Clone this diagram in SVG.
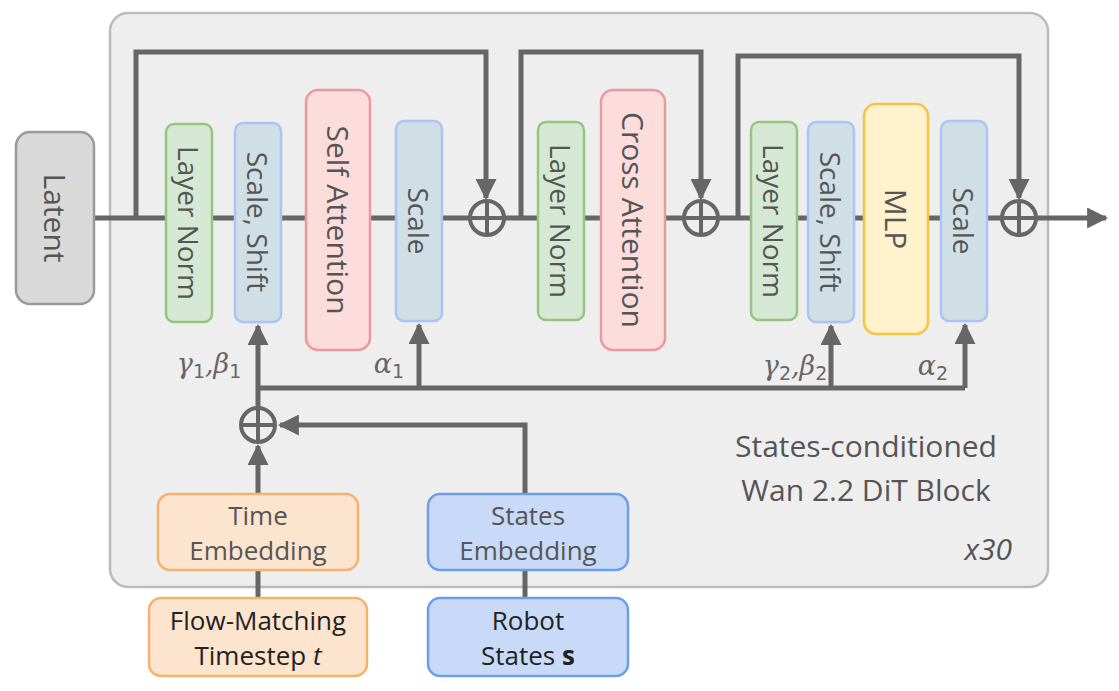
<svg xmlns="http://www.w3.org/2000/svg" width="1119" height="691" viewBox="0 0 1119 691">
<defs>
<marker id="ah" viewBox="0 0 10 10" refX="9" refY="5" markerWidth="4.2" markerHeight="4.2" orient="auto" markerUnits="strokeWidth"><path d="M0,0 L10,5 L0,10 z" fill="#666"/></marker>
<style>
text{font-family:"Open Sans","Noto Sans",sans-serif;fill:#555;font-size:26px;text-anchor:middle;dominant-baseline:central}
.R{font-size:28px}
.L{font-size:30px}
.c{fill:none;stroke:#666;stroke-width:5}
.g{fill:#d5e8d4;stroke:#97c57f;stroke-width:2.5}
.b{fill:#d0dfe6;stroke:#a9c4f5;stroke-width:2.5}
.r{fill:#fddcdc;stroke:#ea9a9a;stroke-width:2.5}
.y{fill:#fff2cc;stroke:#f4c542;stroke-width:2.5}
.o{fill:#fce4cf;stroke:#f6b26b;stroke-width:2.5}
.s{fill:#c9daf8;stroke:#6d9eeb;stroke-width:2.5}
.m{font-family:"DejaVu Serif",serif;font-style:italic;font-size:27px;fill:#666}
.sub{font-family:"DejaVu Sans",sans-serif;font-style:normal;font-size:19px}
.k{fill:#222}
</style>
</defs>
<rect x="110" y="13" width="938" height="574" rx="18" fill="#eeeeee" stroke="#bbbbbb" stroke-width="2.5"/>
<g id="connectors">
<path class="c" d="M94,218 H472 M505,218 H686 M719,218 H1001"/>
<path class="c" d="M1037,218 H1106" marker-end="url(#ah)"/>
<path class="c" d="M136,218 V52 H486 V198" marker-end="url(#ah)"/>
<path class="c" d="M521,218 V52 H701 V198" marker-end="url(#ah)"/>
<path class="c" d="M738,218 V56 H1019 V198" marker-end="url(#ah)"/>
<path class="c" d="M258,407 V326" marker-end="url(#ah)"/>
<path class="c" d="M258,388 H965"/>
<path class="c" d="M419,388 V325" marker-end="url(#ah)"/>
<path class="c" d="M831,388 V326" marker-end="url(#ah)"/>
<path class="c" d="M965,388 V325" marker-end="url(#ah)"/>
<path class="c" d="M525,494 V425 H280" marker-end="url(#ah)"/>
<path class="c" d="M258,494 V446" marker-end="url(#ah)"/>
<path class="c" d="M258,570 V598 M525,570 V598"/>
<g fill="none" stroke="#666" stroke-width="4">
<circle cx="487" cy="218" r="17"/><path d="M470,218 H504 M487,201 V235"/>
<circle cx="701" cy="218" r="17"/><path d="M684,218 H718 M701,201 V235"/>
<circle cx="1019" cy="218" r="17"/><path d="M1002,218 H1036 M1019,201 V235"/>
<circle cx="258" cy="425" r="17"/><path d="M241,425 H275 M258,408 V442"/>
</g>
</g>
<g id="latent"><rect x="16" y="132" width="78" height="172" rx="14" fill="#d9d9d9" stroke="#9a9a9a" stroke-width="2.5"/><text class="L" transform="translate(55,218) rotate(90)">Latent</text></g>
<g id="ln1"><rect class="g" x="166" y="124" width="46" height="198" rx="8"/><text class="R" transform="translate(189,223) rotate(90)">Layer Norm</text></g>
<g id="ss1"><rect class="b" x="235" y="123" width="46" height="199" rx="8"/><text class="R" transform="translate(258,222) rotate(90)">Scale, Shift</text></g>
<g id="sa"><rect class="r" x="306" y="90" width="64" height="260" rx="12"/><text class="L" transform="translate(338,220) rotate(90)">Self Attention</text></g>
<g id="sc1"><rect class="b" x="396" y="121" width="46" height="200" rx="8"/><text class="R" transform="translate(419,221) rotate(90)">Scale</text></g>
<g id="ln2"><rect class="g" x="538" y="122" width="46" height="198" rx="8"/><text class="R" transform="translate(561,221) rotate(90)">Layer Norm</text></g>
<g id="ca"><rect class="r" x="601" y="90" width="64" height="260" rx="12"/><text class="L" transform="translate(633,220) rotate(90)">Cross Attention</text></g>
<g id="ln3"><rect class="g" x="751" y="122" width="46" height="198" rx="8"/><text class="R" transform="translate(774,221) rotate(90)">Layer Norm</text></g>
<g id="ss2"><rect class="b" x="808" y="122" width="46" height="200" rx="8"/><text class="R" transform="translate(831,222) rotate(90)">Scale, Shift</text></g>
<g id="mlp"><rect class="y" x="864" y="104" width="64" height="230" rx="12"/><text class="L" transform="translate(896,219) rotate(90)">MLP</text></g>
<g id="sc2"><rect class="b" x="941" y="121" width="46" height="200" rx="8"/><text class="R" transform="translate(964,221) rotate(90)">Scale</text></g>
<g id="labels">
<text class="m" x="209" y="363">γ<tspan class="sub" dy="8">1</tspan><tspan dy="-8">,β</tspan><tspan class="sub" dy="8">1</tspan></text>
<text class="m" x="389" y="363">α<tspan class="sub" dy="8">1</tspan></text>
<text class="m" x="795" y="365">γ<tspan class="sub" dy="8">2</tspan><tspan dy="-8">,β</tspan><tspan class="sub" dy="8">2</tspan></text>
<text class="m" x="933" y="365">α<tspan class="sub" dy="8">2</tspan></text>
<text class="L" x="866" y="445">States-conditioned</text>
<text class="L" x="866" y="489">Wan 2.2 DiT Block</text>
<text class="L" x="1012" y="548" style="text-anchor:end;font-style:italic">x30</text>
</g>
<g id="time"><rect class="o" x="158" y="494" width="200" height="76" rx="12"/><text x="258" y="515">Time</text><text x="258" y="550">Embedding</text></g>
<g id="states"><rect class="s" x="428" y="494" width="200" height="76" rx="12"/><text x="528" y="515">States</text><text x="528" y="550">Embedding</text></g>
<g id="flow"><rect class="o" x="149" y="598" width="218" height="78" rx="12"/><text class="k" x="258" y="620">Flow-Matching</text><text class="k" x="258" y="655">Timestep <tspan font-style="italic">t</tspan></text></g>
<g id="robot"><rect class="s" x="428" y="598" width="200" height="78" rx="12"/><text class="k" x="528" y="620">Robot</text><text class="k" x="528" y="655">States <tspan font-weight="bold">s</tspan></text></g>
</svg>
